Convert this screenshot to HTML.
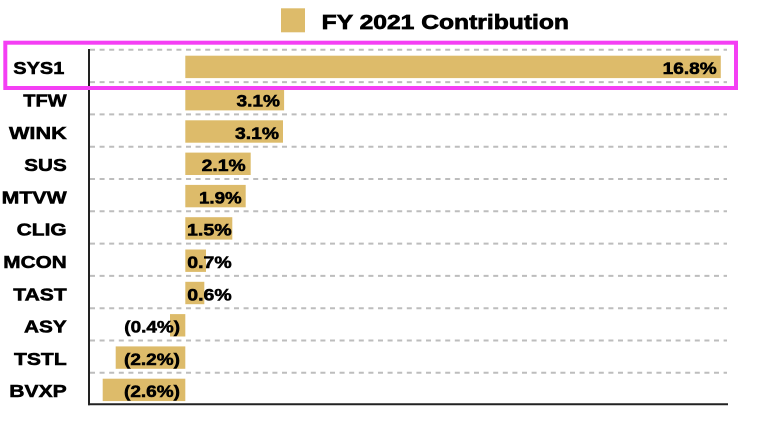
<!DOCTYPE html>
<html>
<head>
<meta charset="utf-8">
<style>
html,body{margin:0;padding:0;background:#fff;}
svg{display:block;}
text{font-family:"Liberation Sans",Arial,sans-serif;font-weight:bold;fill:#000;stroke:#000;stroke-width:0.55;}
</style>
</head>
<body>
<svg width="768" height="432" viewBox="0 0 768 432" xmlns="http://www.w3.org/2000/svg">
  <rect width="768" height="432" fill="#fff"/>
  <!-- legend -->
  <rect x="281" y="8.3" width="24" height="24" fill="#DDBB6A"/>
  <text x="321.7" y="29" font-size="20.5" textLength="247.3" lengthAdjust="spacingAndGlyphs" style="stroke-width:0.7">FY 2021 Contribution</text>

  <!-- gridlines -->
  <g stroke="#BDBDBD" stroke-width="2" stroke-dasharray="5 4.6">
    <line x1="90" y1="49.8" x2="727" y2="49.8"/>
    <line x1="90" y1="82.1" x2="727" y2="82.1"/>
    <line x1="90" y1="114.4" x2="727" y2="114.4"/>
    <line x1="90" y1="146.7" x2="727" y2="146.7"/>
    <line x1="90" y1="179.0" x2="727" y2="179.0"/>
    <line x1="90" y1="211.3" x2="727" y2="211.3"/>
    <line x1="90" y1="243.6" x2="727" y2="243.6"/>
    <line x1="90" y1="275.9" x2="727" y2="275.9"/>
    <line x1="90" y1="308.2" x2="727" y2="308.2"/>
    <line x1="90" y1="340.5" x2="727" y2="340.5"/>
    <line x1="90" y1="372.8" x2="727" y2="372.8"/>
  </g>

  <!-- bars -->
  <g fill="#DDBB6A">
    <rect x="185.3" y="55.7" width="535.5" height="22.4"/>
    <rect x="185.3" y="88.0" width="98.8" height="22.4"/>
    <rect x="185.3" y="120.3" width="97.7" height="22.4"/>
    <rect x="185.3" y="152.6" width="65.4" height="22.4"/>
    <rect x="185.3" y="184.9" width="60.4" height="22.4"/>
    <rect x="185.3" y="217.2" width="47" height="22.4"/>
    <rect x="185.3" y="249.5" width="20.7" height="22.4"/>
    <rect x="185.3" y="281.8" width="19" height="22.4"/>
    <rect x="170" y="314.1" width="15.3" height="22.4"/>
    <rect x="115.7" y="346.4" width="69.6" height="22.4"/>
    <rect x="102.7" y="378.7" width="82.6" height="22.4"/>
  </g>

  <!-- axes -->
  <line x1="89" y1="49" x2="89" y2="405.3" stroke="#222" stroke-width="2"/>
  <line x1="88" y1="404.3" x2="728" y2="404.3" stroke="#222" stroke-width="2"/>

  <!-- category labels -->
  <g font-size="17.5">
    <text x="13.3" y="74.2" textLength="51" lengthAdjust="spacingAndGlyphs">SYS1</text>
    <text x="23.3" y="106.5" textLength="43.4" lengthAdjust="spacingAndGlyphs">TFW</text>
    <text x="9" y="138.8" textLength="57.7" lengthAdjust="spacingAndGlyphs">WINK</text>
    <text x="24.3" y="171.1" textLength="42.4" lengthAdjust="spacingAndGlyphs">SUS</text>
    <text x="1.7" y="203.4" textLength="65" lengthAdjust="spacingAndGlyphs">MTVW</text>
    <text x="16.7" y="235.7" textLength="50" lengthAdjust="spacingAndGlyphs">CLIG</text>
    <text x="3.3" y="268.0" textLength="63.4" lengthAdjust="spacingAndGlyphs">MCON</text>
    <text x="13.3" y="300.3" textLength="53.4" lengthAdjust="spacingAndGlyphs">TAST</text>
    <text x="24" y="332.6" textLength="42.7" lengthAdjust="spacingAndGlyphs">ASY</text>
    <text x="14" y="364.9" textLength="52.7" lengthAdjust="spacingAndGlyphs">TSTL</text>
    <text x="9.3" y="397.2" textLength="57.4" lengthAdjust="spacingAndGlyphs">BVXP</text>
  </g>

  <!-- value labels -->
  <g font-size="17">
    <text x="662.7" y="74.2" textLength="54" lengthAdjust="spacingAndGlyphs">16.8%</text>
    <text x="236.5" y="106.5" textLength="43.5" lengthAdjust="spacingAndGlyphs">3.1%</text>
    <text x="235" y="138.8" textLength="44" lengthAdjust="spacingAndGlyphs">3.1%</text>
    <text x="201.7" y="171.1" textLength="44" lengthAdjust="spacingAndGlyphs">2.1%</text>
    <text x="199" y="203.4" textLength="42.7" lengthAdjust="spacingAndGlyphs">1.9%</text>
    <text x="187" y="235.7" textLength="44.7" lengthAdjust="spacingAndGlyphs">1.5%</text>
    <text x="187.3" y="268.0" textLength="44.4" lengthAdjust="spacingAndGlyphs">0.7%</text>
    <text x="187.3" y="300.3" textLength="44.4" lengthAdjust="spacingAndGlyphs">0.6%</text>
    <text x="124.3" y="332.6" textLength="55.7" lengthAdjust="spacingAndGlyphs">(0.4%)</text>
    <text x="124" y="364.9" textLength="56" lengthAdjust="spacingAndGlyphs">(2.2%)</text>
    <text x="124" y="397.2" textLength="56" lengthAdjust="spacingAndGlyphs">(2.6%)</text>
  </g>

  <!-- highlight box -->
  <rect x="5.3" y="42.7" width="730.7" height="45.3" fill="none" stroke="#F43FF4" stroke-width="4"/>
</svg>
</body>
</html>
